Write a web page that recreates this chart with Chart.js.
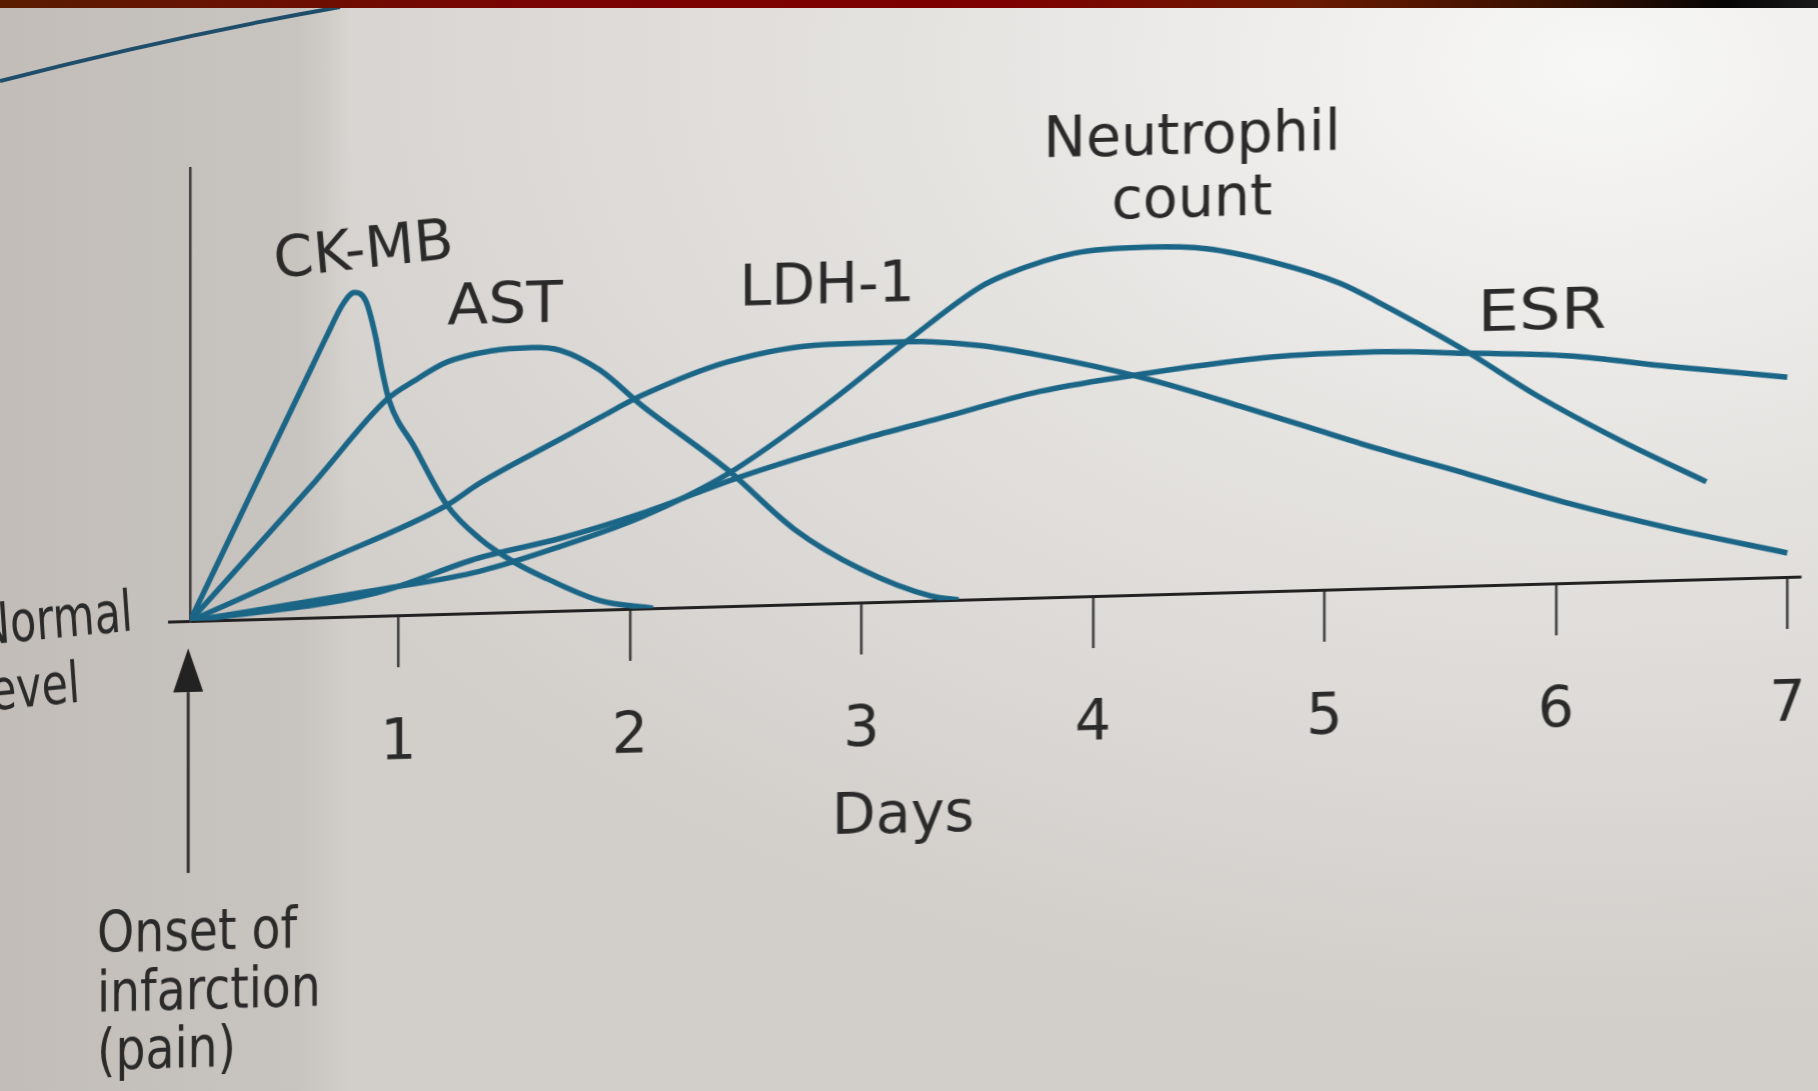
<!DOCTYPE html>
<html>
<head>
  <meta charset="utf-8">
  <title>Markers after myocardial infarction</title>
  <script src="https://cdn.jsdelivr.net/npm/chart.js"></script>
  <style>
    html, body {
      margin: 0;
      padding: 0;
      width: 1818px;
      height: 1091px;
      overflow: hidden;
    }
    body {
      position: relative;
      background: radial-gradient(ellipse 1500px 950px at 88% 6%, #f7f7f5 0%, #e5e3e0 45%, #d2cfcb 100%);
    }
    .fold {
      position: absolute;
      left: 0; top: 0;
      width: 350px; height: 1091px;
      background: linear-gradient(to right, #c2bdb8 0%, #c8c4bf 86%, rgba(208,205,201,0) 100%);
    }
    #stray {
      position: absolute;
      left: 0; top: 0;
    }
    canvas {
      position: absolute;
      left: 0; top: 0;
      transform-origin: 190px 621px;
      transform: skewY(-1.58deg);
    }
    .band {
      position: absolute;
      left: 0; top: 0;
      width: 1818px; height: 8px;
      background: linear-gradient(to right, #5a1d02 0%, #7b0303 30%, #7e0000 55%, #6a1a02 72%, #3a1100 85%, #050505 95%, #1a1a1a 100%);
    }
  </style>
</head>
<body>
  <div class="fold"></div>
  <svg id="stray" width="400" height="100">
    <path d="M0,81 Q175,36 340,7" stroke="#1f4e6b" stroke-width="4" fill="none"/>
  </svg>
  <canvas id="chart" width="1818" height="1091" style="width:1818px;height:1091px"></canvas>
  <div class="band"></div>

  <script>
    // days after onset -> relative level (0 = normal level, 100 = top of axis)
    const dayTicks = [1, 2, 3, 4, 5, 6, 7];

    const ckmb = [[0.1,0],[0.35,26.3],[0.53,45.2],[0.63,55.7],[0.69,62],[0.76,69],[0.81,71.5],[0.86,69.5],
      [0.9,62],[0.93,54],[0.96,47.5],[1.07,37],[1.21,24],[1.35,16.5],[1.5,11],[1.64,7.2],[1.87,2.0],[2.1,0]];

    const ast = [[0.1,0],[0.64,30],[0.95,47.7],[1.07,51.7],[1.21,55.6],[1.4,57.8],[1.58,58.3],[1.7,57.5],
      [1.87,52.9],[2.05,44.9],[2.42,30.2],[2.71,16.6],[3.0,7.3],[3.3,1.0],[3.42,0]];

    const ldh1 = [[0.1,0],[0.66,12],[1.21,24],[1.35,28.6],[1.7,37.9],[1.87,42.4],[2.05,47],[2.42,53.9],
      [2.85,57.2],[3.2,57.3],[3.51,56],[3.77,53.5],[4.21,48],[4.64,41],[4.93,36],[5.22,31],
      [5.63,24.5],[6.06,17.5],[6.49,11.5],[7.0,5.3]];

    const neutrophil = [[0.1,0],[0.92,5.8],[1.35,9.2],[1.7,14.2],[2.05,20.2],[2.42,29.1],[2.85,43.9],
      [3.21,57.9],[3.51,68.8],[3.63,71.6],[3.92,75.8],[4.24,76.7],[4.49,76],[4.78,72.6],[5.07,67.5],
      [5.22,63.5],[5.6,52.2],[5.92,41.5],[6.28,31.1],[6.65,21.5]];

    const esr = [[0.1,0],[0.9,5],[1.35,12.2],[1.7,16],[2.05,21],[2.48,28.5],[3.0,36],[3.34,40.2],
      [3.77,45.5],[4.24,48.9],[4.78,51.7],[5.22,52.2],[5.63,51.3],[6.06,50.1],[6.49,47.2],[7.0,44.1]];

    // curve names, placed in data units
    const curveNames = ['CK-MB', 'AST', 'LDH-1', 'Neutrophil', 'count', 'ESR'];
    const curveNameDay = [0.856, 1.461, 2.852, 4.428, 4.428, 5.94];
    const curveNameLevel = [76.9, 63.9, 66.3, 97.2, 83.3, 56.0];
    const curveNameAngle = [-5, 0, 0, 0, 0, 0];
    const curveNameStretch = [1, 1.05, 1, 1, 1, 1.15];

    // notes on the left of the axes
    const noteLines = ['Normal', 'level', 'Onset of', 'infarction', '(pain)'];
    const noteDay = [-0.81, -0.81, -0.302, -0.302, -0.302];
    const noteLevel = [-4.1, -18.7, -72.7, -85.7, -98.5];
    const noteAngle = [-4, -4, 0, 0, 0];
    const noteStretch = [0.75, 0.75, 0.83, 0.83, 0.83];

    const axisTitle = 'Days';
    const axisTitleDay = 3.18;
    const axisTitleLevel = -51.1;

    // onset arrow: day, tip, head base, tail
    const onsetDay = 0.092;
    const arrowLevels = [-6.0, -15.7, -55.6];

    const lineColor = '#1b6587';
    const inkColor = '#2a2a2a';
    const fontFace = '57px "DejaVu Sans", "Liberation Sans", sans-serif';

    function drawText(ctx, text, px, py, align, angle, stretch) {
      ctx.save();
      ctx.translate(px, py);
      ctx.rotate(angle * Math.PI / 180);
      ctx.scale(stretch, 1);
      ctx.textAlign = align;
      ctx.fillText(text, 0, 0);
      ctx.restore();
    }

    const annotations = {
      id: 'annotations',
      afterDatasetsDraw(chart) {
        const { ctx } = chart;
        const x = chart.scales.x;
        const y = chart.scales.y;
        ctx.save();
        ctx.fillStyle = inkColor;
        ctx.font = fontFace;
        ctx.textBaseline = 'alphabetic';

        curveNames.forEach((t, i) => {
          drawText(ctx, t, x.getPixelForValue(curveNameDay[i]), y.getPixelForValue(curveNameLevel[i]),
            'center', curveNameAngle[i], curveNameStretch[i]);
        });

        noteLines.forEach((t, i) => {
          drawText(ctx, t, x.getPixelForValue(noteDay[i]), y.getPixelForValue(noteLevel[i]),
            'left', noteAngle[i], noteStretch[i]);
        });

        drawText(ctx, axisTitle, x.getPixelForValue(axisTitleDay), y.getPixelForValue(axisTitleLevel),
          'center', 0, 1);

        // arrow marking the onset
        const ax = x.getPixelForValue(onsetDay);
        const tip = y.getPixelForValue(arrowLevels[0]);
        const base = y.getPixelForValue(arrowLevels[1]);
        const tail = y.getPixelForValue(arrowLevels[2]);
        ctx.strokeStyle = '#333';
        ctx.lineWidth = 3;
        ctx.beginPath();
        ctx.moveTo(ax, tail);
        ctx.lineTo(ax, base);
        ctx.stroke();
        ctx.fillStyle = '#222';
        ctx.beginPath();
        ctx.moveTo(ax, tip);
        ctx.lineTo(ax - 15, base);
        ctx.lineTo(ax + 15, base);
        ctx.closePath();
        ctx.fill();
        ctx.restore();
      }
    };

    const series = [
      { name: 'CK-MB', points: ckmb },
      { name: 'AST', points: ast },
      { name: 'LDH-1', points: ldh1 },
      { name: 'Neutrophil count', points: neutrophil },
      { name: 'ESR', points: esr }
    ];

    new Chart(document.getElementById('chart'), {
      type: 'line',
      data: {
        datasets: series.map(s => ({
          label: s.name,
          data: s.points.map(([d, v]) => ({ x: d, y: v })),
          borderColor: lineColor,
          borderWidth: 5.5,
          pointRadius: 0,
          fill: false,
          cubicInterpolationMode: 'monotone'
        }))
      },
      options: {
        responsive: false,
        devicePixelRatio: 1,
        animation: false,
        layout: { padding: { left: 168, top: 168, right: 18, bottom: 270 } },
        plugins: {
          legend: { display: false },
          tooltip: { enabled: false }
        },
        scales: {
          x: {
            type: 'linear',
            min: 0.1,
            max: 7.055,
            afterBuildTicks: s => { s.ticks = dayTicks.map(v => ({ value: v })); },
            afterFit: s => { s.height = 200; s.paddingLeft = 0; s.paddingRight = 0; },
            border: { display: true, color: '#222', width: 3 },
            grid: { drawOnChartArea: false, drawTicks: true, tickLength: 52, color: '#3a3a3a', lineWidth: 2.5 },
            ticks: {
              color: inkColor,
              padding: 43,
              maxRotation: 0,
              autoSkip: false,
              font: { family: '"DejaVu Sans", "Liberation Sans", sans-serif', size: 57 }
            }
          },
          y: {
            min: 0,
            max: 100,
            afterBuildTicks: s => { s.ticks = [{ value: 0 }]; },
            afterFit: s => { s.width = 22; s.paddingTop = 0; s.paddingBottom = 0; },
            border: { display: true, color: '#3a3a3a', width: 2.5 },
            grid: { drawOnChartArea: false, drawTicks: true, tickLength: 22, color: '#222', lineWidth: 3 },
            ticks: { display: false }
          }
        }
      },
      plugins: [annotations]
    });
  </script>
</body>
</html>
